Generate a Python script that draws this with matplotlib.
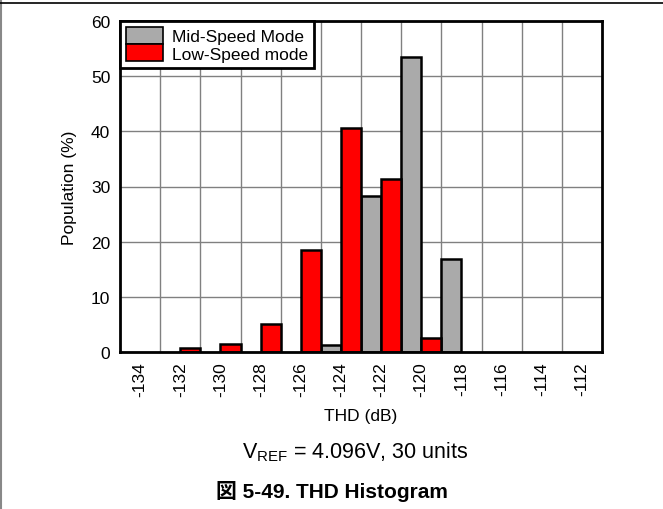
import matplotlib
matplotlib.use("Agg")
import matplotlib.pyplot as plt
from matplotlib.patches import Patch
import numpy as np

thd_bins = [-134, -132, -130, -128, -126, -124, -122, -120, -118, -116, -114, -112]
mid_speed = [0, 0, 0, 0, 0, 1.3, 28.2, 53.4, 16.9, 0, 0, 0]
low_speed = [0, 0.7, 1.5, 5.1, 18.4, 40.6, 31.3, 2.5, 0, 0, 0, 0]
tick_labels = [str(v) for v in thd_bins]

plt.rcParams['font.family'] = ['Liberation Sans', 'Noto Sans CJK JP', 'DejaVu Sans']
plt.rcParams['font.size'] = 12.5

fig = plt.figure(figsize=(6.63, 5.10), dpi=100)
ax = fig.add_axes([120/663, 1-353/510, (602-120)/663, (353-22)/510])

x = np.array(thd_bins, dtype=float)
gray = '#AAAAAA'
red = '#FF0000'

def draw(vals, offset, color):
    lw = [1.8 if v > 0 else 0.8 for v in vals]
    ec = ['black' if v > 0 else '#BBBBBB' for v in vals]
    ax.bar(x + offset, vals, width=1.0, color=color, edgecolor=ec, linewidth=lw, zorder=3)

draw(mid_speed, -0.5, gray)
draw(low_speed, 0.5, red)

ax.set_xlim(-135, -111)
ax.set_ylim(0, 60)
ax.set_xticks(x)
ax.set_xticklabels(tick_labels, rotation=90)
ax.set_xticks(x[:-1] + 1, minor=True)
ax.set_yticks(np.arange(0, 61, 10))
ax.tick_params(axis='both', which='both', length=0, labelsize=12.5)
ax.tick_params(axis='y', which='major', pad=7)
ax.tick_params(axis='x', which='major', pad=7)
ax.grid(True, which='minor', axis='x', color='#808080', linewidth=1.0, zorder=0)
ax.grid(True, which='major', axis='y', color='#808080', linewidth=1.0, zorder=0)
ax.grid(False, which='major', axis='x')
for s in ax.spines.values():
    s.set_linewidth(2.0)
    s.set_zorder(5)

ax.set_xlabel('THD (dB)', labelpad=8, fontsize=12.5)
ax.set_ylabel('Population (%)', labelpad=10, fontsize=12.5)

handles = [Patch(facecolor=gray, edgecolor='black', linewidth=1.2, label='Mid-Speed Mode'),
           Patch(facecolor=red, edgecolor='black', linewidth=1.2, label='Low-Speed mode')]
leg = ax.legend(handles=handles, loc='upper left', fancybox=False, framealpha=1,
                edgecolor='black', borderaxespad=0, handlelength=2.1, handleheight=1.1,
                handletextpad=0.55, labelspacing=0.0, borderpad=0.35, fontsize=12.5)
leg.get_frame().set_linewidth(2.0)
leg.set_zorder(6)

fig.text(355/663, 1-452/510, r'V$_{\mathregular{REF}}$ = 4.096V, 30 units', ha='center', va='center', fontsize=15.5)
fig.text(332/663, 1-492/510, '図 5-49. THD Histogram', ha='center', va='center', fontsize=15, fontweight='bold')

fig.add_artist(plt.Line2D([0.5/663, 0.5/663], [0, 1], color='#888888', linewidth=1.5))
fig.add_artist(plt.Line2D([0, 1], [1-3.5/510, 1-3.5/510], color='black', linewidth=1.2))

fig.savefig('out.png', dpi=100)
